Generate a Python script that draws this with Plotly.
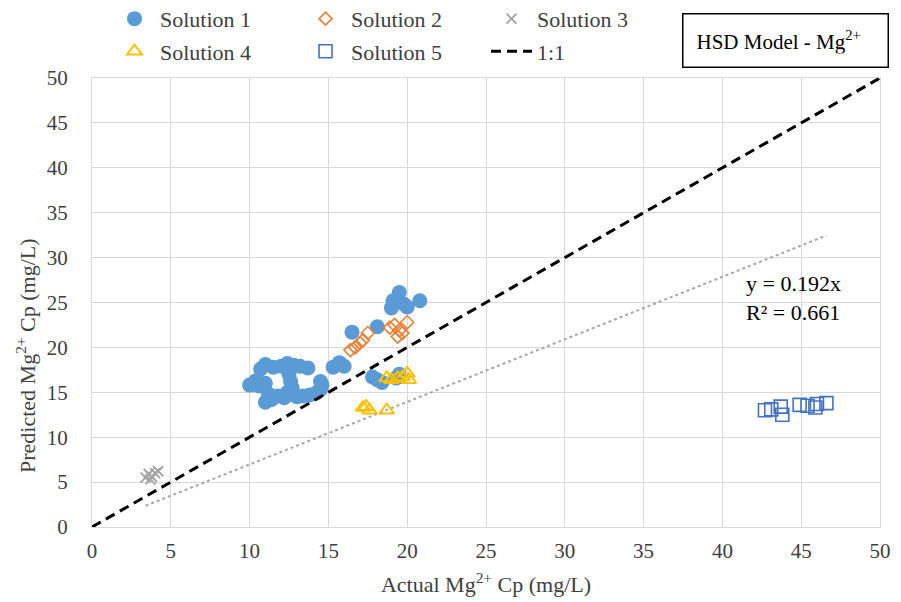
import numpy as np
import plotly.graph_objects as go

# Actual vs. predicted Mg2+ permeate concentration (mg/L)
sol1_actual = [10.7, 11.0, 11.5, 12.0, 12.4, 12.8, 13.2, 13.7,
               10.0, 10.4, 10.6, 11.0,
               12.5, 12.6, 12.7, 12.4,
               11.0, 11.4, 11.8, 12.2, 12.6, 13.0, 13.4, 13.8, 14.2, 14.5, 11.2,
               14.5, 14.6,
               15.3, 15.7, 16.0,
               16.5, 18.1,
               19.5, 19.1, 19.0, 19.8, 20.0, 20.8,
               17.8, 18.1, 18.4, 19.3, 19.5]
sol1_pred = [17.6, 18.1, 17.8, 17.9, 18.2, 18.0, 17.9, 17.7,
             15.8, 16.3, 15.7, 16.0,
             17.0, 16.2, 15.5, 15.0,
             13.9, 14.2, 14.6, 14.4, 14.8, 14.5, 14.6, 14.7, 14.9, 15.3, 14.8,
             16.2, 15.8,
             17.8, 18.3, 17.9,
             21.7, 22.3,
             26.1, 25.2, 24.4, 24.8, 24.5, 25.2,
             16.7, 16.4, 16.1, 16.6, 17.0]

sol2_actual = [16.4, 16.7, 17.0, 17.2, 17.5, 18.9, 19.2, 19.5, 19.4, 19.7, 20.0]
sol2_pred = [19.7, 20.0, 20.5, 20.8, 21.6, 22.2, 22.5, 21.9, 21.2, 21.6, 22.8]

sol3_actual = [3.4, 3.6, 3.8, 4.0, 4.2, 3.7]
sol3_pred = [5.5, 5.9, 5.6, 6.0, 6.2, 5.3]

sol4_actual = [18.7, 19.0, 19.4, 19.7, 20.0, 20.1, 17.2, 17.4, 17.6, 18.7]
sol4_pred = [16.6, 16.4, 16.6, 16.7, 17.1, 16.4, 13.3, 13.4, 13.0, 13.0]

sol5_actual = [42.7, 43.1, 43.7, 43.8, 44.9, 45.4, 45.9, 46.0, 46.6]
sol5_pred = [13.0, 13.1, 13.4, 12.5, 13.6, 13.5, 13.3, 13.7, 13.8]

axis_ticks = [0, 5, 10, 15, 20, 25, 30, 35, 40, 45, 50]
one_to_one = [0, 50]

trend_label = "y = 0.192x<br>R² = 0.661"

FONT = "Liberation Serif, Times New Roman, serif"
TXT = "#404040"

# Linear trendline through the origin over all pooled points
all_x = np.array(sol1_actual + sol2_actual + sol3_actual + sol4_actual + sol5_actual)
all_y = np.array(sol1_pred + sol2_pred + sol3_pred + sol4_pred + sol5_pred)
slope = float((all_x * all_y).sum() / (all_x ** 2).sum())
trend_x = [all_x.min(), all_x.max()]
trend_y = [slope * v for v in trend_x]

fig = go.Figure()

fig.add_trace(go.Scatter(
    x=trend_x, y=trend_y, mode="lines", showlegend=False,
    line=dict(color="#a6a6a6", width=2, dash="dot"), hoverinfo="skip"))

# Legend laid out as three columns of two rows
fig.add_trace(go.Scatter(
    x=sol1_actual, y=sol1_pred, mode="markers", name="Solution 1",
    legend="legend", legendgroup="s1",
    marker=dict(symbol="circle", size=15, color="#5B9BD5")))
fig.add_trace(go.Scatter(
    x=sol2_actual, y=sol2_pred, mode="markers", name="Solution 2",
    legend="legend2", legendgroup="s2",
    marker=dict(symbol="diamond-open", size=10, color="#ED7D31", line=dict(width=1.6))))
fig.add_trace(go.Scatter(
    x=sol3_actual, y=sol3_pred, mode="markers", name="Solution 3",
    legend="legend3", legendgroup="s3",
    marker=dict(symbol="x-thin-open", size=10, color="#A5A5A5", line=dict(width=2, color="#A5A5A5"))))
fig.add_trace(go.Scatter(
    x=sol4_actual, y=sol4_pred, mode="markers", name="Solution 4",
    legend="legend", legendgroup="s4",
    marker=dict(symbol="triangle-up-open", size=13, color="#FFC000", line=dict(width=2))))
fig.add_trace(go.Scatter(
    x=sol5_actual, y=sol5_pred, mode="markers", name="Solution 5",
    legend="legend2", legendgroup="s5",
    marker=dict(symbol="square-open", size=13, color="#4472C4", line=dict(width=1.6))))
fig.add_trace(go.Scatter(
    x=one_to_one, y=one_to_one, mode="lines", name="1:1",
    legend="legend3", legendgroup="s6",
    line=dict(color="black", width=3, dash="10px,6px")))

legend_common = dict(
    orientation="v", xanchor="left", yanchor="middle", y=1.095,
    font=dict(family=FONT, size=22, color=TXT),
    bgcolor="rgba(0,0,0,0)", itemwidth=41, tracegroupgap=1,
)

fig.update_layout(
    width=901, height=602,
    margin=dict(l=92, r=21, t=78, b=75, autoexpand=False),
    paper_bgcolor="white", plot_bgcolor="white",
    font=dict(family=FONT, size=22, color=TXT),
    legend=dict(x=0.0216, **legend_common),
    legend2=dict(x=0.264, **legend_common),
    legend3=dict(x=0.50, **legend_common),
    xaxis=dict(
        range=[0, 50], tickvals=axis_ticks, ticks="",
        showgrid=True, gridcolor="#d9d9d9", gridwidth=1,
        zeroline=False, showline=True, mirror=True, linecolor="#d9d9d9",
        tickfont=dict(family=FONT, size=21, color=TXT), ticklabelstandoff=5,
        title=dict(text="Actual Mg<sup>2+</sup> Cp (mg/L)",
                   font=dict(family=FONT, size=22, color=TXT), standoff=14),
    ),
    yaxis=dict(
        range=[0, 50], tickvals=axis_ticks, ticks="",
        showgrid=True, gridcolor="#d9d9d9", gridwidth=1,
        zeroline=False, showline=True, mirror=True, linecolor="#d9d9d9",
        tickfont=dict(family=FONT, size=21, color=TXT), ticklabelstandoff=19,
    ),
    annotations=[
        # y-axis title, set slightly below the plot's mid-height
        dict(xref="paper", yref="paper", x=-0.0838, y=0.383,
             xanchor="center", yanchor="middle", textangle=-90,
             text="Predicted Mg<sup>2+</sup> Cp (mg/L)", showarrow=False,
             font=dict(family=FONT, size=22, color=TXT)),
        dict(xref="paper", yref="paper", x=0.8807, y=1.0846,
             xanchor="center", yanchor="middle",
             text="HSD Model - Mg<sup>2+</sup>", showarrow=False, align="left",
             width=178, height=26, borderpad=13,
             bordercolor="black", borderwidth=1.5, bgcolor="white",
             font=dict(family=FONT, size=21, color="black")),
        dict(xref="x", yref="y", x=41.4, y=25.5, xanchor="left", yanchor="middle",
             text=trend_label, showarrow=False, align="left",
             font=dict(family=FONT, size=22, color="black")),
    ],
)

fig.write_html("out.html")
